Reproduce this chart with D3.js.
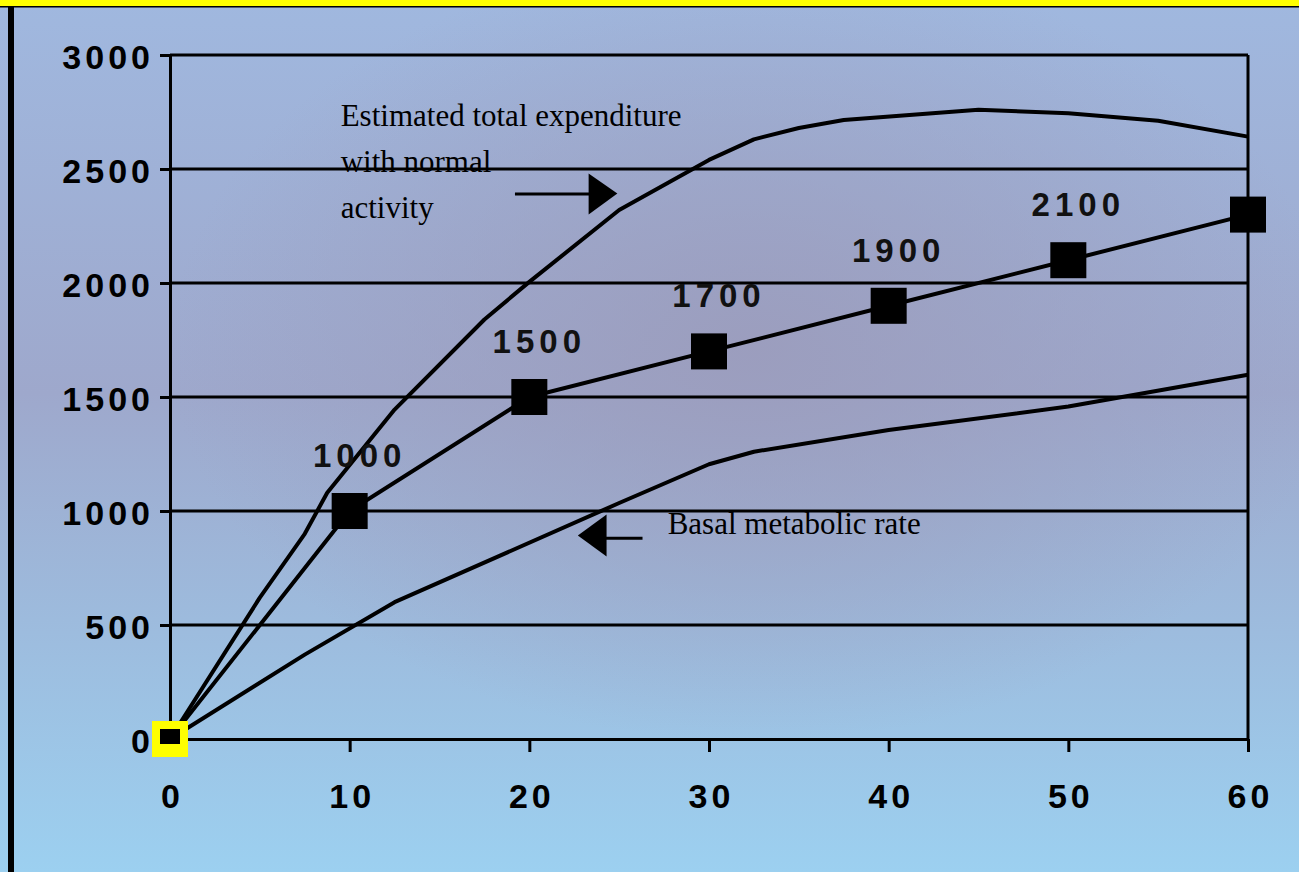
<!DOCTYPE html>
<html>
<head>
<meta charset="utf-8">
<script src="https://cdn.jsdelivr.net/npm/d3@7"></script>
<style>
  html, body { margin: 0; padding: 0; background: #9fb8dc; }
  svg { display: block; }
  .tick text { font-family: "Liberation Sans", Arial, sans-serif; font-weight: bold; font-size: 34px; letter-spacing: 4px; fill: #000; }
  .note { font-family: "Liberation Serif", "Times New Roman", serif; font-size: 31px; fill: #000; }
  .val { font-family: "Liberation Sans", Arial, sans-serif; font-weight: bold; font-size: 33px; letter-spacing: 5px; fill: #111; }
</style>
</head>
<body>
<svg id="chart" width="1299" height="872"></svg>
<script>
// ----------------------------
// DATA
// ----------------------------
const xTicks = [0, 10, 20, 30, 40, 50, 60];
const yTicks = [0, 500, 1000, 1500, 2000, 2500, 3000];

// middle series with square markers
const intakeAge = [0, 10, 20, 30, 40, 50, 60];
const intakeKcal = [0, 1000, 1500, 1700, 1900, 2100, 2300];
const intakeLabels = ["", "1000", "1500", "1700", "1900", "2100", ""];

// upper curve: estimated total expenditure with normal activity
const totalAge  = [0, 5, 7.5, 8.75, 12.5, 17.5, 20, 25, 30, 32.5, 35, 37.5, 45, 50, 55, 60];
const totalKcal = [0, 620, 900, 1080, 1445, 1840, 2005, 2320, 2540, 2630, 2680, 2715, 2760, 2745, 2712, 2642];

// lower curve: basal metabolic rate
const bmrAge  = [0, 7.5, 12.5, 25, 30, 32.5, 40, 50, 60];
const bmrKcal = [0, 370, 600, 1035, 1205, 1260, 1355, 1458, 1598];

const noteTotal = ["Estimated total expenditure", "with normal", "activity"];
const noteBmr = "Basal metabolic rate";

// ----------------------------
// SETUP
// ----------------------------
const svg = d3.select("#chart");
const W = 1299, H = 872;
const margin = { top: 55, right: 51, bottom: 133, left: 170 };
const width = W - margin.left - margin.right;
const height = H - margin.top - margin.bottom;

const defs = svg.append("defs");
const lin = defs.append("linearGradient").attr("id", "bgLin")
  .attr("x1", 0).attr("y1", 0).attr("x2", 0).attr("y2", 1);
lin.append("stop").attr("offset", "0%").attr("stop-color", "#a0b8df");
lin.append("stop").attr("offset", "45%").attr("stop-color", "#9ea8cc");
lin.append("stop").attr("offset", "100%").attr("stop-color", "#9cd0f0");

const rad = defs.append("radialGradient").attr("id", "bgRad")
  .attr("cx", "58%").attr("cy", "40%").attr("r", "45%");
rad.append("stop").attr("offset", "0%").attr("stop-color", "#9b9cbc").attr("stop-opacity", 0.9);
rad.append("stop").attr("offset", "100%").attr("stop-color", "#9b9cbc").attr("stop-opacity", 0);

svg.append("rect").attr("width", W).attr("height", H).attr("fill", "url(#bgLin)");
svg.append("rect").attr("width", W).attr("height", H).attr("fill", "url(#bgRad)");

// frame: yellow top band and black left bar
svg.append("rect").attr("x", 0).attr("y", 0).attr("width", W).attr("height", 6).attr("fill", "#ffff00");
svg.append("rect").attr("x", 0).attr("y", 6).attr("width", W).attr("height", 1.5).attr("fill", "#000");
svg.append("rect").attr("x", 8).attr("y", 7).attr("width", 6).attr("height", H - 7).attr("fill", "#000");

const g = svg.append("g").attr("transform", `translate(${margin.left},${margin.top})`);

const x = d3.scaleLinear().domain([0, 60]).range([0, width]);
const y = d3.scaleLinear().domain([0, 3000]).range([height, 0]);

// ----------------------------
// ANNOTATIONS (under the grid)
// ----------------------------
g.append("text").attr("class", "note")
  .attr("x", x(9.5)).attr("y", y(2690))
  .selectAll("tspan").data(noteTotal).join("tspan")
  .attr("x", x(9.5)).attr("dy", (d, i) => i === 0 ? 0 : 46)
  .text(d => d);

g.append("text").attr("class", "note")
  .attr("x", x(27.7)).attr("y", y(900))
  .text(noteBmr);

// ----------------------------
// GRID + AXES
// ----------------------------
g.append("g")
  .selectAll("line").data(yTicks.slice(1)).join("line")
  .attr("x1", 0).attr("x2", width)
  .attr("y1", d => y(d)).attr("y2", d => y(d))
  .attr("stroke", "#000").attr("stroke-width", 3);

g.append("line")
  .attr("x1", width).attr("x2", width).attr("y1", 0).attr("y2", height)
  .attr("stroke", "#000").attr("stroke-width", 3);

const yAxis = g.append("g")
  .call(d3.axisLeft(y).tickValues(yTicks).tickFormat(d3.format("d"))
    .tickSize(10).tickSizeOuter(0).tickPadding(6));

const xAxis = g.append("g")
  .attr("transform", `translate(0,${height})`)
  .call(d3.axisBottom(x).tickValues(xTicks).tickFormat(d3.format("d"))
    .tickSize(13).tickSizeOuter(0).tickPadding(32));

[yAxis, xAxis].forEach(a => {
  a.attr("font-size", null).attr("font-family", null);
  a.selectAll("path, line").attr("stroke", "#000").attr("stroke-width", 3);
});
xAxis.selectAll(".tick text").attr("dx", "2px");
yAxis.selectAll(".tick text").attr("dy", "0.4em");

// ----------------------------
// LINES
// ----------------------------
const line = d3.line().x(d => x(d[0])).y(d => y(d[1]));

const series = [
  d3.zip(totalAge, totalKcal),
  d3.zip(intakeAge, intakeKcal),
  d3.zip(bmrAge, bmrKcal)
];

g.append("g")
  .selectAll("path").data(series).join("path")
  .attr("d", line)
  .attr("fill", "none")
  .attr("stroke", "#000")
  .attr("stroke-width", 4)
  .attr("stroke-linejoin", "round");

// arrows
const arrow = d3.line();
g.append("line")
  .attr("x1", x(19.2)).attr("x2", x(23.5))
  .attr("y1", y(2390)).attr("y2", y(2390))
  .attr("stroke", "#000").attr("stroke-width", 3);
g.append("path")
  .attr("d", arrow([[x(23.3), y(2480)], [x(24.9), y(2393)], [x(23.3), y(2300)]]) + "Z")
  .attr("fill", "#000");

g.append("line")
  .attr("x1", x(26.3)).attr("x2", x(24.2))
  .attr("y1", y(881)).attr("y2", y(881))
  .attr("stroke", "#000").attr("stroke-width", 3);
g.append("path")
  .attr("d", arrow([[x(24.3), y(985)], [x(22.7), y(892)], [x(24.3), y(800)]]) + "Z")
  .attr("fill", "#000");

// ----------------------------
// MARKERS + VALUE LABELS
// ----------------------------
const pts = d3.zip(intakeAge, intakeKcal, intakeLabels);
const S = 36;

g.append("g")
  .selectAll("rect").data(pts.slice(1)).join("rect")
  .attr("x", d => x(d[0]) - S / 2).attr("y", d => y(d[1]) - S / 2)
  .attr("width", S).attr("height", S)
  .attr("fill", "#000");

// origin marker (highlighted)
const o = pts[0];
g.append("rect")
  .attr("x", x(o[0]) - S / 2).attr("y", y(o[1]) - S / 2)
  .attr("width", S).attr("height", S).attr("fill", "#ffff00");
g.append("rect")
  .attr("x", x(o[0]) - 10).attr("y", y(o[1]) - 10)
  .attr("width", 20).attr("height", 15).attr("fill", "#000");

g.append("g")
  .selectAll("text").data(pts.filter(d => d[2])).join("text")
  .attr("class", "val")
  .attr("x", d => x(d[0]) + 10).attr("y", d => y(d[1]) - 44)
  .attr("text-anchor", "middle")
  .text(d => d[2]);
</script>
</body>
</html>
